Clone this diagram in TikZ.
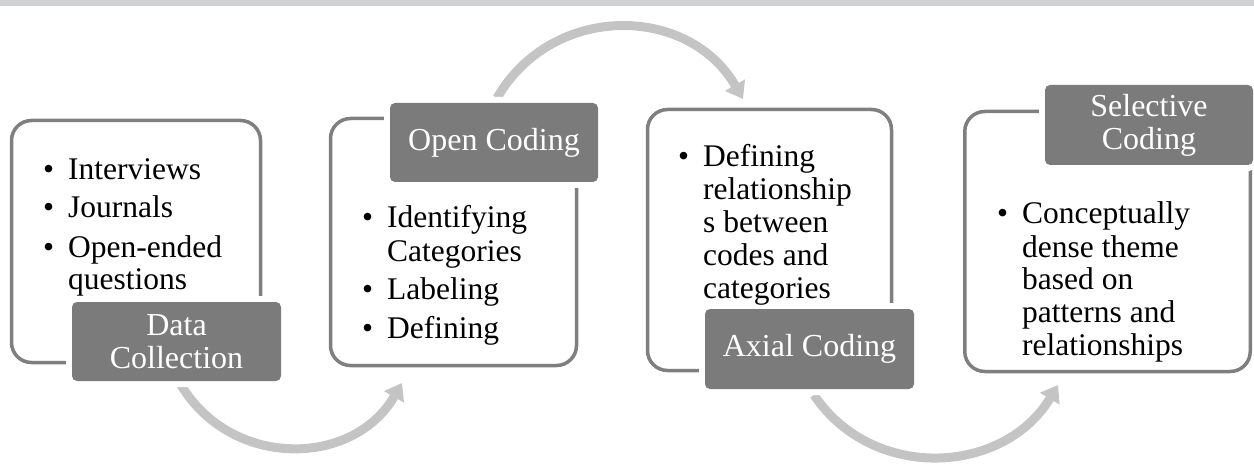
\documentclass[tikz,border=0pt]{standalone}
\usepackage{fontspec}
\setmainfont{Liberation Serif}
\usetikzlibrary{arrows.meta}
\definecolor{bordergray}{HTML}{7F7F7F}
\definecolor{labelgray}{HTML}{7B7B7B}
\definecolor{arrowgray}{HTML}{C4C4C4}
\definecolor{topband}{HTML}{D1D2D4}
\newcommand\itm[1]{\hbox{\makebox[25pt][l]{\textbullet}#1}}
\newcommand\cnt[1]{\hbox{\hspace*{25pt}#1}}
\newcommand\igap{\vskip 6pt}
\begin{document}
\begin{tikzpicture}[x=1pt,y=1pt,
  panel/.style={draw=bordergray, line width=3.5pt, rounded corners=20pt, fill=white, inner sep=0pt},
  stage/.style={fill=labelgray, rounded corners=5pt, inner sep=0pt, text=white, align=center,
    font=\fontsize{32}{33}\selectfont, preaction={draw=white, line width=12pt}},
  bodytext/.style={anchor=base west, inner sep=0pt, font=\fontsize{31.5}{33}\selectfont},
  flow/.style={draw=arrowgray, line width=9pt, -{Triangle[length=16pt,width=22pt]}}]
\useasboundingbox (0,0) rectangle (1254,-476);
\fill[topband] (0,0) rectangle (1254,-6);

% arrows
\coordinate (a1s) at (181,-385);
\coordinate (a1e) at (402,-383);
\coordinate (a2s) at (497,-98);
\coordinate (a2e) at (743,-99);
\coordinate (a3s) at (814,-395);
\coordinate (a3e) at (1058,-385);
\draw[flow] (a1s) to[out=-59,in=-120,looseness=1.13] (a1e);
\draw[flow] (a2s) to[out=60,in=120,looseness=1.14] (a2e);
\draw[flow] (a3s) to[out=-56,in=-121,looseness=1.1] (a3e);

% panels
\node[panel, minimum width=249pt, minimum height=242pt] (dcbox) at (136,-241.5) {};
\node[panel, minimum width=246pt, minimum height=247pt] (ocbox) at (453.5,-242) {};
\node[panel, minimum width=244pt, minimum height=261pt] (acbox) at (769.5,-240) {};
\node[panel, minimum width=285.5pt, minimum height=260pt] (scbox) at (1107.5,-241.5) {};

% stage labels
\node[stage, minimum width=209pt, minimum height=79pt] (dclab) at (176.5,-341.5) {Data\\Collection};
\node[stage, minimum width=208pt, minimum height=79pt] (oclab) at (494,-142.5) {Open Coding};
\node[stage, minimum width=209pt, minimum height=80pt] (aclab) at (809.5,-349) {Axial Coding};
\node[stage, minimum width=208pt, minimum height=80pt] (sclab) at (1149,-125) {Selective\\Coding};

% body texts
\node[bodytext] (dctext) at (43,-179) {\vtop{\itm{Interviews}\igap\itm{Journals}\igap\itm{Open-ended}\cnt{questions}}};
\node[bodytext] (octext) at (362,-228) {\vtop{\itm{Identifying}\cnt{Categories}\igap\itm{Labeling}\igap\itm{Defining}}};
\node[bodytext] (actext) at (678,-167) {\vtop{\itm{Defining}\cnt{relationship}\cnt{s between}\cnt{codes and}\cnt{categories}}};
\node[bodytext] (sctext) at (997,-224) {\vtop{\itm{Conceptually}\cnt{dense theme}\cnt{based on}\cnt{patterns and}\cnt{relationships}}};
\end{tikzpicture}
\end{document}
